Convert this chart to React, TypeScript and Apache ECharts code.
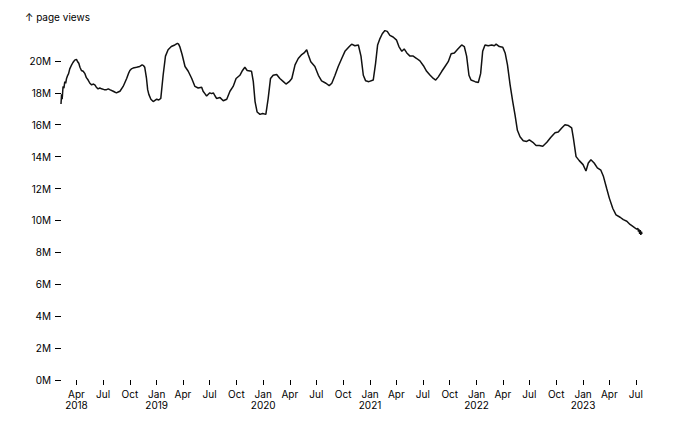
import React, { useEffect, useRef } from "react";
import * as echarts from "echarts";

const dates = [
  "2018-02-07", "2018-02-09", "2018-02-11", "2018-02-14", "2018-02-17", "2018-02-20", "2018-02-23", "2018-02-26",
  "2018-03-02", "2018-03-05", "2018-03-09", "2018-03-14", "2018-03-20", "2018-03-26", "2018-04-01", "2018-04-05",
  "2018-04-09", "2018-04-13", "2018-04-18", "2018-04-24", "2018-04-30", "2018-05-05", "2018-05-11", "2018-05-17",
  "2018-05-23", "2018-05-28", "2018-06-03", "2018-06-08", "2018-06-14", "2018-06-20", "2018-06-26", "2018-07-05",
  "2018-07-13", "2018-07-19", "2018-07-24", "2018-08-05", "2018-08-10", "2018-08-16", "2018-08-22", "2018-08-28",
  "2018-09-08", "2018-09-14", "2018-09-20", "2018-09-26", "2018-10-01", "2018-10-06", "2018-10-12", "2018-10-24",
  "2018-11-04", "2018-11-12", "2018-11-17", "2018-11-21", "2018-11-27", "2018-12-01", "2018-12-05", "2018-12-12",
  "2018-12-20", "2019-01-01", "2019-01-08", "2019-01-15", "2019-01-23", "2019-01-31", "2019-02-09", "2019-02-20",
  "2019-03-04", "2019-03-13", "2019-03-17", "2019-03-21", "2019-03-29", "2019-04-08", "2019-04-19", "2019-05-01",
  "2019-05-12", "2019-05-23", "2019-06-04", "2019-06-09", "2019-06-15", "2019-06-21", "2019-07-02", "2019-07-08",
  "2019-07-14", "2019-07-20", "2019-07-25", "2019-08-06", "2019-08-17", "2019-08-29", "2019-09-09", "2019-09-20",
  "2019-09-30", "2019-10-13", "2019-10-22", "2019-10-30", "2019-11-07", "2019-11-22", "2019-11-28", "2019-12-04",
  "2019-12-11", "2019-12-21", "2019-12-30", "2020-01-10", "2020-01-18", "2020-01-26", "2020-02-04", "2020-02-16",
  "2020-02-27", "2020-03-10", "2020-03-19", "2020-03-30", "2020-04-08", "2020-04-19", "2020-04-30", "2020-05-12",
  "2020-05-20", "2020-05-29", "2020-06-03", "2020-06-12", "2020-06-26", "2020-07-08", "2020-07-19", "2020-08-03",
  "2020-08-14", "2020-08-23", "2020-09-03", "2020-09-14", "2020-09-26", "2020-10-07", "2020-10-22", "2020-10-30",
  "2020-11-10", "2020-11-22", "2020-12-01", "2020-12-09", "2020-12-17", "2020-12-28", "2021-01-12", "2021-01-20",
  "2021-01-27", "2021-02-04", "2021-02-12", "2021-02-21", "2021-03-01", "2021-03-10", "2021-03-21", "2021-04-02",
  "2021-04-10", "2021-04-20", "2021-04-28", "2021-05-07", "2021-05-18", "2021-05-29", "2021-06-10", "2021-06-21",
  "2021-07-03", "2021-07-14", "2021-07-26", "2021-08-06", "2021-08-14", "2021-08-23", "2021-09-04", "2021-09-15",
  "2021-09-26", "2021-10-06", "2021-10-17", "2021-10-29", "2021-11-11", "2021-11-20", "2021-11-28", "2021-12-06",
  "2021-12-13", "2021-12-27", "2022-01-07", "2022-01-15", "2022-01-22", "2022-01-30", "2022-02-10", "2022-02-22",
  "2022-03-03", "2022-03-09", "2022-03-20", "2022-04-01", "2022-04-09", "2022-04-17", "2022-04-26", "2022-05-05",
  "2022-05-13", "2022-05-21", "2022-05-30", "2022-06-10", "2022-06-22", "2022-07-01", "2022-07-13", "2022-07-24",
  "2022-08-04", "2022-08-16", "2022-08-30", "2022-09-12", "2022-09-27", "2022-10-08", "2022-10-20", "2022-10-31",
  "2022-11-12", "2022-11-23", "2022-11-29", "2022-12-08", "2022-12-19", "2023-01-01", "2023-01-11", "2023-01-19",
  "2023-01-28", "2023-02-08", "2023-02-19", "2023-03-03", "2023-03-12", "2023-03-23", "2023-04-01", "2023-04-13",
  "2023-04-24", "2023-05-08", "2023-05-19", "2023-05-31", "2023-06-11", "2023-06-23", "2023-07-04", "2023-07-08",
  "2023-07-10", "2023-07-12", "2023-07-14", "2023-07-16", "2023-07-18", "2023-07-20", "2023-07-22",
];

// page views, in millions
const views = [
  17.3, 17.9, 17.6, 18.4, 18.3, 18.7, 18.6, 18.9,
  19.1, 19.2, 19.5, 19.7, 19.9, 20.05, 20.1, 19.95,
  19.85, 19.6, 19.4, 19.35, 19.2, 18.95, 18.8, 18.6,
  18.5, 18.55, 18.5, 18.35, 18.25, 18.3, 18.25, 18.2,
  18.2, 18.25, 18.2, 18.1, 18.05, 18.0, 18.05, 18.1,
  18.4, 18.65, 18.9, 19.2, 19.4, 19.5, 19.55, 19.6,
  19.65, 19.75, 19.7, 19.6, 18.9, 18.2, 17.9, 17.6,
  17.45, 17.6, 17.55, 17.65, 19.1, 20.3, 20.7, 20.9,
  21.0, 21.1, 21.05, 20.9, 20.4, 19.65, 19.35, 18.9,
  18.4, 18.3, 18.35, 18.1, 17.95, 17.8, 18.0, 17.95,
  18.0, 17.8, 17.65, 17.7, 17.5, 17.6, 18.1, 18.4,
  18.9, 19.1, 19.4, 19.6, 19.4, 19.35, 18.7, 17.45,
  16.8, 16.65, 16.7, 16.65, 17.65, 18.9, 19.1, 19.15,
  18.9, 18.7, 18.55, 18.7, 18.9, 19.75, 20.15, 20.4,
  20.5, 20.7, 20.4, 19.95, 19.65, 19.1, 18.75, 18.6,
  18.45, 18.6, 19.1, 19.65, 20.15, 20.6, 20.9, 21.05,
  20.95, 21.0, 20.3, 19.1, 18.75, 18.7, 18.8, 19.85,
  21.0, 21.4, 21.7, 21.9, 21.85, 21.6, 21.5, 21.3,
  20.9, 20.6, 20.75, 20.5, 20.3, 20.3, 20.15, 20.0,
  19.7, 19.35, 19.1, 18.9, 18.8, 19.0, 19.35, 19.65,
  19.95, 20.45, 20.5, 20.75, 21.0, 20.9, 20.3, 19.1,
  18.8, 18.7, 18.65, 19.2, 20.6, 21.0, 20.95, 21.0,
  20.95, 21.05, 20.9, 20.85, 20.5, 19.75, 18.5, 17.45,
  16.6, 15.65, 15.25, 15.0, 14.95, 15.05, 14.9, 14.7,
  14.7, 14.65, 14.9, 15.2, 15.5, 15.55, 15.8, 16.0,
  15.95, 15.8, 15.15, 14.0, 13.75, 13.5, 13.1, 13.6,
  13.8, 13.6, 13.3, 13.15, 12.75, 12.0, 11.4, 10.75,
  10.35, 10.2, 10.05, 9.95, 9.75, 9.6, 9.45, 9.5,
  9.3, 9.45, 9.15, 9.4, 9.1, 9.3, 9.15,
];

const xTicks = [
  "2018-04-01", "2018-07-01", "2018-10-01", "2019-01-01", "2019-04-01", "2019-07-01", "2019-10-01",
  "2020-01-01", "2020-04-01", "2020-07-01", "2020-10-01", "2021-01-01", "2021-04-01", "2021-07-01",
  "2021-10-01", "2022-01-01", "2022-04-01", "2022-07-01", "2022-10-01", "2023-01-01", "2023-04-01",
  "2023-07-01",
];
const xTickLabels = [
  "Apr\n2018", "Jul", "Oct", "Jan\n2019", "Apr", "Jul", "Oct",
  "Jan\n2020", "Apr", "Jul", "Oct", "Jan\n2021", "Apr", "Jul",
  "Oct", "Jan\n2022", "Apr", "Jul", "Oct", "Jan\n2023", "Apr",
  "Jul",
];
const yTicks = [0, 2, 4, 6, 8, 10, 12, 14, 16, 18, 20];

export default function App() {
  const ref = useRef<HTMLDivElement>(null);
  useEffect(() => {
    const chart = echarts.init(ref.current!, null, { renderer: "svg" });
    const font = "Inter, sans-serif";
    const tickTimes = xTicks.map((d) => Date.parse(d));
    const labelMap = new Map<number, string>(tickTimes.map((t, i) => [t, xTickLabels[i]]));
    chart.setOption({
      animation: false,
      title: {
        text: "↑ page views",
        left: 25,
        top: 12,
        padding: 0,
        textStyle: { fontSize: 10, fontWeight: "normal", color: "#000", fontFamily: font },
      },
      grid: { left: 61, right: 48, top: 29, bottom: 48 },
      xAxis: {
        type: "value",
        min: Date.parse(dates[0]),
        max: Date.parse(dates[dates.length - 1]),
        axisLine: { show: false },
        splitLine: { show: false },
        axisTick: { show: true, length: 5, lineStyle: { color: "#000" }, customValues: tickTimes },
        axisLabel: {
          customValues: tickTimes,
          formatter: (v: number) => labelMap.get(v) ?? "",
          fontSize: 10,
          lineHeight: 11,
          color: "#000",
          margin: 8,
          fontFamily: font,
          hideOverlap: false,
        },
      },
      yAxis: {
        type: "value",
        min: 0,
        max: 22,
        axisLine: { show: false },
        splitLine: { show: false },
        axisTick: { show: true, length: 6, lineStyle: { color: "#000" }, customValues: yTicks },
        axisLabel: {
          customValues: yTicks,
          formatter: (v: number) => `${v}M`,
          fontSize: 10,
          color: "#000",
          margin: 10,
          fontFamily: font,
        },
      },
      series: [
        {
          type: "line",
          data: dates.map((d, i) => [Date.parse(d), views[i]]),
          showSymbol: false,
          symbol: "none",
          lineStyle: { color: "#111", width: 1.5 },
        },
      ],
    });
    return () => chart.dispose();
  }, []);
  return <div ref={ref} style={{ position: "absolute", left: 0, top: 0, width: 690, height: 428 }} />;
}
